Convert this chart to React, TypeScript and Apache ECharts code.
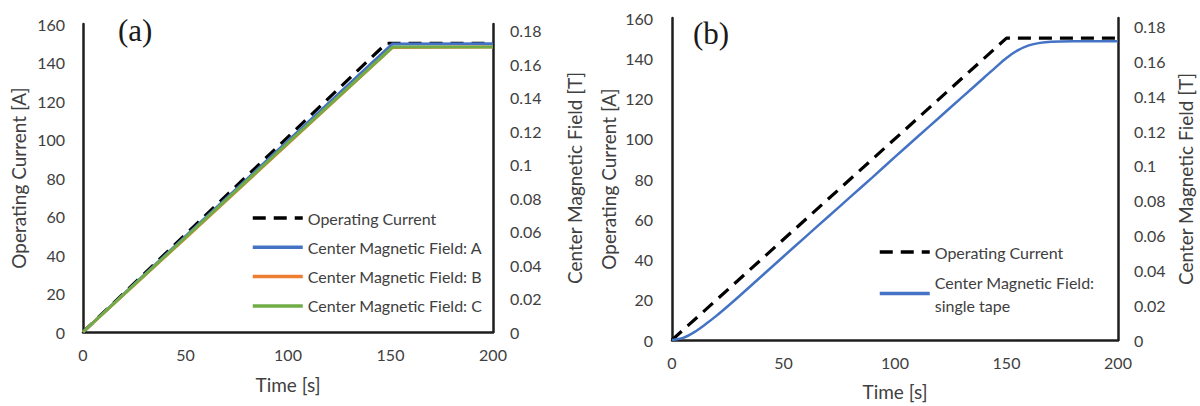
import React, { useEffect, useRef } from 'react';
import * as echarts from 'echarts';

// ---- Panel (a) ----
const TIME_A_CURRENT = [0, 148, 200];
const CURRENT_A = [0, 150, 150];
const TIME_A_FIELD = [0, 50, 100, 151, 200];
const FIELD_A = [0, 0.0571, 0.1142, 0.1721, 0.1722];
const FIELD_B = [0, 0.0561, 0.1125, 0.1700, 0.1702];
const FIELD_C = [0, 0.0565, 0.1130, 0.1702, 0.1702];

// ---- Panel (b) ----
const TIME_B_CURRENT = [0, 150, 200];
const CURRENT_B = [0, 150, 150];
const TIME_B_FIELD = [0, 5, 10, 15, 20, 25, 30, 40, 50, 60, 70, 80, 90, 100, 110, 120, 130, 140, 145, 150, 155, 160, 165, 170, 180, 200];
const FIELD_SINGLE = [0, 0.0012, 0.0045, 0.009, 0.014, 0.0194, 0.025, 0.0365, 0.048, 0.0594, 0.0708, 0.0822, 0.0936, 0.1052, 0.1166, 0.128, 0.1394, 0.1508, 0.1565, 0.162, 0.1664, 0.1693, 0.1707, 0.1713, 0.1716, 0.1717];

const X_TICKS = [0, 50, 100, 150, 200];
const LEFT_TICK_INTERVAL = 20;
const RIGHT_TICK_INTERVAL = 0.02;

const NAME_CURRENT = 'Operating Current';
const NAME_A = 'Center Magnetic Field: A';
const NAME_B = 'Center Magnetic Field: B';
const NAME_C = 'Center Magnetic Field: C';
const NAME_SINGLE = 'Center Magnetic Field:\nsingle tape';

const FONT = 'Lato, "Open Sans", sans-serif';
const TXT = '#404040';
const AXIS = '#1e1e1e';
const TICK_FS = 16;
const NAME_FS = 19;

const pairs = (xs: number[], ys: number[]) => xs.map((x, i) => [x, ys[i]]);

function xAxis(gridIndex: number, labelMargin: number, nameGap: number) {
  return {
    type: 'value', gridIndex, min: X_TICKS[0], max: X_TICKS[X_TICKS.length - 1], interval: 50,
    name: 'Time [s]', nameLocation: 'middle', nameGap,
    nameTextStyle: { color: TXT, fontSize: NAME_FS, fontFamily: FONT },
    axisLine: { show: true, onZero: false, lineStyle: { color: AXIS, width: 2.5 } },
    axisTick: { show: false },
    splitLine: { show: false },
    axisLabel: { color: TXT, fontSize: TICK_FS, fontFamily: FONT, margin: labelMargin },
  };
}

function leftAxis(gridIndex: number, labelMargin: number, nameGap: number) {
  return {
    type: 'value', gridIndex, position: 'left', min: 0, max: 160, interval: LEFT_TICK_INTERVAL,
    name: 'Operating Current [A]', nameLocation: 'middle', nameGap,
    nameTextStyle: { color: TXT, fontSize: NAME_FS, fontFamily: FONT },
    axisLine: { show: true, onZero: false, lineStyle: { color: AXIS, width: 2.5 } },
    axisTick: { show: false },
    splitLine: { show: false },
    axisLabel: { color: TXT, fontSize: TICK_FS, fontFamily: FONT, margin: labelMargin },
  };
}

function rightAxis(gridIndex: number, max: number, labelMargin: number, nameGap: number) {
  return {
    type: 'value', gridIndex, position: 'right', min: 0, max, interval: RIGHT_TICK_INTERVAL,
    name: 'Center Magnetic Field [T]', nameLocation: 'middle', nameGap,
    nameTextStyle: { color: TXT, fontSize: NAME_FS, fontFamily: FONT },
    axisLine: { show: true, onZero: false, lineStyle: { color: AXIS, width: 2.5 } },
    axisTick: { show: false },
    splitLine: { show: false },
    axisLabel: { color: TXT, fontSize: TICK_FS, fontFamily: FONT, margin: labelMargin, showMaxLabel: false },
  };
}

const dashed = { color: '#000', width: 3.2, type: [13, 8] as number[] };

export default function App() {
  const ref = useRef<HTMLDivElement>(null);
  useEffect(() => {
    const chart = echarts.init(ref.current!, null, { renderer: 'svg' });
    const legendText = { color: TXT, fontSize: TICK_FS, fontFamily: FONT, lineHeight: 18 };
    const hiddenSymbol = { opacity: 0 };
    const legendLine = { width: 3.5 };
    chart.setOption({
      animation: false,
      backgroundColor: '#fff',
      textStyle: { fontFamily: FONT },
      grid: [
        { left: 83, right: 1200 - 493, top: 24, bottom: 406 - 332, containLabel: false, outerBoundsMode: 'none' },
        { left: 672, right: 1200 - 1118, top: 18, bottom: 406 - 340, containLabel: false, outerBoundsMode: 'none' },
      ],
      xAxis: [xAxis(0, 14, 43), xAxis(1, 14, 42)],
      yAxis: [
        leftAxis(0, 18, 55),
        rightAxis(0, 0.184, 17, 72),
        leftAxis(1, 19, 54),
        rightAxis(1, 0.185, 16, 58),
      ],
      legend: [
        {
          orient: 'vertical', left: 251, top: 209, padding: 0, itemWidth: 50, itemHeight: 14, itemGap: 11.3,
          selectedMode: false, textStyle: legendText, itemStyle: hiddenSymbol, lineStyle: legendLine,
          data: [NAME_CURRENT, NAME_A, NAME_B, NAME_C],
        },
        {
          orient: 'vertical', left: 878, top: 243, padding: 0, itemWidth: 50, itemHeight: 14,
          selectedMode: false, textStyle: legendText, itemStyle: hiddenSymbol, lineStyle: legendLine,
          data: [NAME_CURRENT],
        },
        {
          orient: 'vertical', left: 878, top: 259, padding: 0, itemWidth: 50, itemHeight: 14,
          selectedMode: false, itemStyle: hiddenSymbol, lineStyle: legendLine,
          textStyle: { color: TXT, fontSize: TICK_FS, fontFamily: FONT, lineHeight: 23, padding: [23, 0, 0, 0] },
          data: [NAME_SINGLE],
        },
      ],
      graphic: [
        { type: 'text', left: 118, top: 15, style: { text: '(a)', font: '31px "Liberation Serif", "DejaVu Serif", serif', fill: '#1a1a1a' } },
        { type: 'text', left: 693, top: 18, style: { text: '(b)', font: '31px "Liberation Serif", "DejaVu Serif", serif', fill: '#1a1a1a' } },
      ],
      series: [
        { name: NAME_CURRENT, type: 'line', xAxisIndex: 0, yAxisIndex: 0, showSymbol: false, symbol: 'none', lineStyle: dashed, itemStyle: { color: '#000' }, data: pairs(TIME_A_CURRENT, CURRENT_A) },
        { name: NAME_A, type: 'line', xAxisIndex: 0, yAxisIndex: 1, showSymbol: false, symbol: 'none', lineStyle: { color: '#4472C4', width: 3 }, itemStyle: { color: '#4472C4' }, data: pairs(TIME_A_FIELD, FIELD_A) },
        { name: NAME_B, type: 'line', xAxisIndex: 0, yAxisIndex: 1, showSymbol: false, symbol: 'none', lineStyle: { color: '#ED7D31', width: 3 }, itemStyle: { color: '#ED7D31' }, data: pairs(TIME_A_FIELD, FIELD_B) },
        { name: NAME_C, type: 'line', xAxisIndex: 0, yAxisIndex: 1, showSymbol: false, symbol: 'none', lineStyle: { color: '#70AD47', width: 3 }, itemStyle: { color: '#70AD47' }, data: pairs(TIME_A_FIELD, FIELD_C) },
        { name: NAME_CURRENT, type: 'line', xAxisIndex: 1, yAxisIndex: 2, showSymbol: false, symbol: 'none', lineStyle: dashed, itemStyle: { color: '#000' }, data: pairs(TIME_B_CURRENT, CURRENT_B) },
        { name: NAME_SINGLE, type: 'line', xAxisIndex: 1, yAxisIndex: 3, showSymbol: false, symbol: 'none', smooth: 0.3, lineStyle: { color: '#4472C4', width: 2.5 }, itemStyle: { color: '#4472C4' }, data: pairs(TIME_B_FIELD, FIELD_SINGLE) },
      ],
    });
    return () => chart.dispose();
  }, []);
  return <div ref={ref} style={{ position: 'fixed', left: 0, top: 0, width: 1200, height: 406, background: '#fff' }} />;
}
